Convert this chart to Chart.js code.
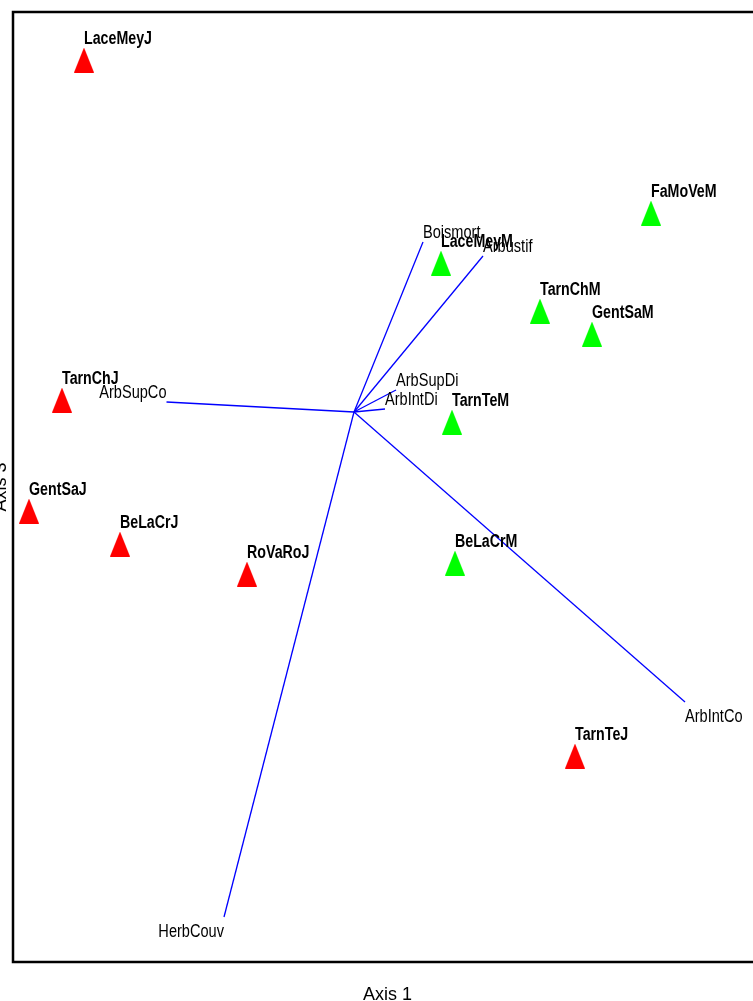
<!DOCTYPE html>
<html>
<head>
<meta charset="utf-8">
<script src="https://cdn.jsdelivr.net/npm/chart.js@4/dist/chart.umd.min.js"></script>
<style>
  html, body { margin: 0; padding: 0; background: #fff; overflow: hidden; }
  #wrap { width: 753px; height: 1001px; overflow: hidden; position: relative; }
  canvas { display: block; }
</style>
</head>
<body>
<div id="wrap"><canvas id="biplot" width="770" height="1001"></canvas></div>
<script>
// Sites sampled as juveniles (J)
const juvNames = ['LaceMeyJ', 'TarnChJ', 'GentSaJ', 'BeLaCrJ', 'RoVaRoJ', 'TarnTeJ'];
const juvX = [-1.35, -1.46, -1.625, -1.17, -0.535, 1.105];
const juvY = [1.76, 0.06, -0.495, -0.66, -0.81, -1.72];

// Sites sampled as adults (M)
const matNames = ['FaMoVeM', 'LaceMeyM', 'TarnChM', 'GentSaM', 'TarnTeM', 'BeLaCrM'];
const matX = [1.485, 0.435, 0.93, 1.19, 0.49, 0.505];
const matY = [0.995, 0.745, 0.505, 0.39, -0.05, -0.755];

// Habitat variables (arrow tips, from the origin)
const varNames = ['Boismort', 'Arbustif', 'ArbSupCo', 'ArbSupDi', 'ArbIntDi', 'ArbIntCo', 'HerbCouv'];
const varX = [0.345, 0.645, -0.9375, 0.21, 0.155, 1.655, -0.65];
const varY = [0.85, 0.78, 0.05, 0.11, 0.015, -1.45, -2.525];

// Axis titles and limits
const xTitle = 'Axis 1';
const yTitle = 'Axis 3';
const xLimits = [-1.705, 2.04];
const yLimits = [-2.75, 2.0];

// Tall filled triangle used as point marker
function triangle(color) {
  const c = document.createElement('canvas');
  c.width = 20; c.height = 25;
  const g = c.getContext('2d');
  g.fillStyle = color;
  g.beginPath();
  g.moveTo(10, 0); g.lineTo(20, 25); g.lineTo(0, 25);
  g.closePath(); g.fill();
  return c;
}

const toPts = (xs, ys) => xs.map((x, i) => ({ x, y: ys[i] }));

const datasets = [];
varNames.forEach((name, i) => {
  datasets.push({
    type: 'line',
    label: name,
    data: [{ x: 0, y: 0 }, { x: varX[i], y: varY[i] }],
    borderColor: '#0000ff',
    borderWidth: 1.3,
    pointRadius: 0,
    fill: false,
    tension: 0,
    clip: false,
    isVector: true
  });
});
datasets.push({
  label: 'J',
  data: toPts(juvX, juvY),
  pointStyle: triangle('#ff0000'),
  names: juvNames,
  clip: false
});
datasets.push({
  label: 'M',
  data: toPts(matX, matY),
  pointStyle: triangle('#00ff00'),
  names: matNames,
  clip: false
});

function narrowText(ctx, text, x, y, align, font, sx) {
  ctx.save();
  ctx.translate(x, y);
  ctx.scale(sx, 1);
  ctx.font = font;
  ctx.fillStyle = '#000';
  ctx.textAlign = align;
  ctx.textBaseline = 'alphabetic';
  ctx.fillText(text, 0, 0);
  ctx.restore();
}

const decor = {
  id: 'decor',
  afterDatasetsDraw(chart) {
    const ctx = chart.ctx;
    const a = chart.chartArea;
    const origin = chart.getDatasetMeta(0).data[0];

    // variable names at the arrow tips
    chart.data.datasets.forEach((ds, di) => {
      if (!ds.isVector) return;
      const tip = chart.getDatasetMeta(di).data[1];
      const align = tip.x >= origin.x ? 'left' : 'right';
      const by = tip.y > origin.y ? tip.y + 20 : tip.y - 4.5;
      narrowText(ctx, ds.label, tip.x, by, align, '18px "Liberation Sans", Arial, sans-serif', 0.81);
    });

    // site names above each triangle
    chart.data.datasets.forEach((ds, di) => {
      if (!ds.names) return;
      chart.getDatasetMeta(di).data.forEach((el, j) => {
        narrowText(ctx, ds.names[j], el.x, el.y - 16, 'left', 'bold 18px "Liberation Sans", Arial, sans-serif', 0.79);
      });
    });

    // frame
    ctx.save();
    ctx.strokeStyle = '#000';
    ctx.lineWidth = 2.5;
    ctx.strokeRect(a.left, a.top, a.right - a.left, a.bottom - a.top);

    // axis titles
    ctx.fillStyle = '#000';
    ctx.font = '18px "Liberation Sans", Arial, sans-serif';
    ctx.textAlign = 'center';
    ctx.textBaseline = 'alphabetic';
    ctx.fillText(xTitle, (a.left + a.right) / 2, a.bottom + 38);
    ctx.translate(6, (a.top + a.bottom) / 2);
    ctx.rotate(-Math.PI / 2);
    ctx.fillText(yTitle, 0, 0);
    ctx.restore();
  }
};

new Chart(document.getElementById('biplot'), {
  type: 'scatter',
  data: { datasets },
  options: {
    responsive: false,
    animation: false,
    devicePixelRatio: 1,
    layout: { padding: { left: 13, top: 12, right: 8, bottom: 39 } },
    plugins: { legend: { display: false }, tooltip: { enabled: false } },
    scales: {
      x: { type: 'linear', display: false, min: xLimits[0], max: xLimits[1] },
      y: { type: 'linear', display: false, min: yLimits[0], max: yLimits[1] }
    }
  },
  plugins: [decor]
});
</script>
</body>
</html>
